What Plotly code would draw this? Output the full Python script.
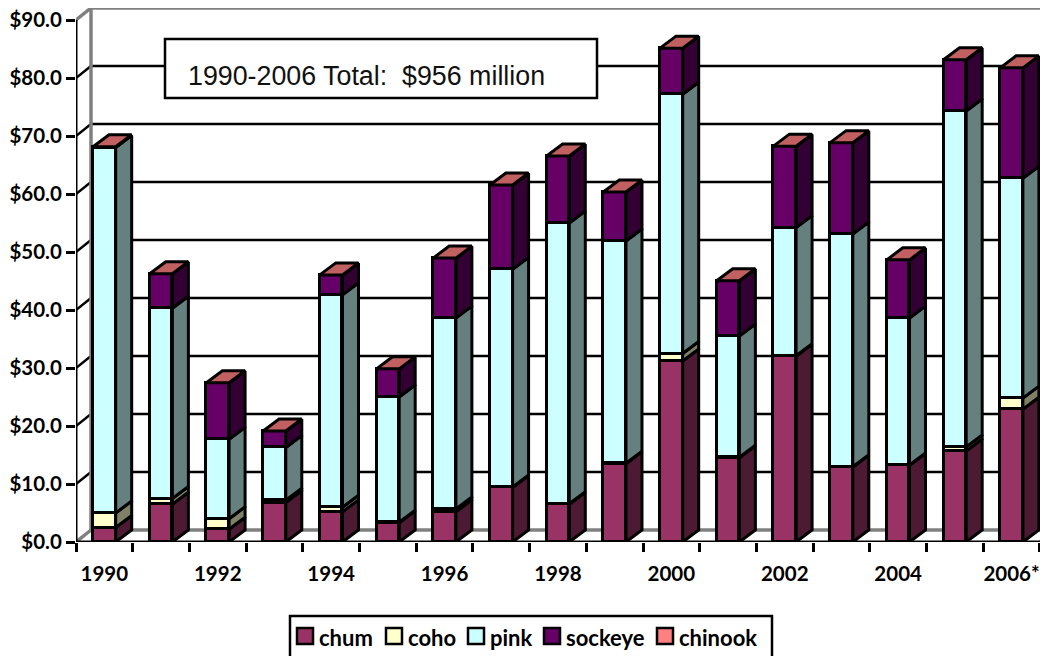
import plotly.graph_objects as go

years = ["1990","1991","1992","1993","1994","1995","1996","1997","1998","1999","2000","2001","2002","2003","2004","2005","2006*"]
chum = [2.5,6.5,2.2,6.8,5.2,3.3,5.2,9.4,6.5,13.5,31.2,14.5,32.0,12.9,13.2,15.7,22.9]
coho = [2.5,1.0,1.8,0.4,0.8,0.1,0.5,0.1,0.1,0.1,1.3,0.1,0.1,0.1,0.1,0.7,1.9]
pink = [63.0,32.8,13.7,9.1,36.6,21.6,32.9,37.5,48.4,38.3,44.7,20.9,22.1,40.1,25.3,57.9,37.9]
sockeye = [0.1,5.9,9.7,2.8,3.4,4.8,10.3,14.5,11.5,8.4,7.9,9.5,14.0,15.7,10.0,8.8,19.0]
chinook = [0.05]*17
series = [("chum",chum,"#993366","#4D1A33"),("coho",coho,"#FFFFCC","#808066"),
          ("pink",pink,"#CCFFFF","#668080"),("sockeye",sockeye,"#660066","#330033"),
          ("chinook",chinook,"#FF8080","#804040")]
TOP_FACE = "#C06060"
y_ticks = [0,10,20,30,40,50,60,70,80,90]
x_label_idx = [0,2,4,6,8,10,12,14,16]
legend_swatch_px = [297,386,468,544,657]
legend_text_px = [317,406,488,564,677]

# Geometry in page pixels; the page body has an 8px margin
OFF = 8
PAGE_W,PAGE_H = 1048,656
L,TOP,BOTTOM = 76,8,542
CAT_PX = 56.7
UNIT_PX = 5.8
DX = 16/CAT_PX
DY = 12/UNIT_PX
BAR = 0.4
XMIN,XMAX = -0.5,-0.5+(PAGE_W-L)/CAT_PX
YMAX = (BOTTOM-TOP)/UNIT_PX
XEND = len(years)-0.5
WALLX = XMIN+15/CAT_PX
DATAX = lambda p:XMIN+(p-L)/CAT_PX
DATAY = lambda p:(BOTTOM-p)/UNIT_PX
PX = lambda p:(p-L)/(PAGE_W-L)
PY = lambda p:(BOTTOM-p)/(BOTTOM-TOP)

fig = go.Figure()
n = len(years)
base = [0.0]*n
sides = []
LW = 3
for name,vals,col,dark in series:
    fig.add_bar(x=list(range(n)),y=vals,base=base,name=name,width=BAR,showlegend=False,
                marker=dict(color=col,line=dict(color="black",width=LW)),hoverinfo="skip")
    sx,sy = [],[]
    for i in range(n):
        r = i+BAR/2
        b0,b1 = base[i],base[i]+vals[i]
        sx += [r,r+DX,r+DX,r,r,None]
        sy += [b0,b0+DY,b1+DY,b1,b0,None]
    sides.append((sx,sy,dark))
    base = [a+b for a,b in zip(base,vals)]
for sx,sy,dark in sides:
    fig.add_scatter(x=sx,y=sy,mode="lines",fill="toself",fillcolor=dark,
                    line=dict(color="black",width=LW),showlegend=False,hoverinfo="skip",cliponaxis=False)
tx,ty = [],[]
for i in range(n):
    l,r = i-BAR/2,i+BAR/2
    t = base[i]
    tx += [l,l+DX,r+DX,r,l,None]
    ty += [t,t+DY,t+DY,t,t,None]
fig.add_scatter(x=tx,y=ty,mode="lines",fill="toself",fillcolor=TOP_FACE,
                line=dict(color="black",width=LW),showlegend=False,hoverinfo="skip",cliponaxis=False)
fig.add_scatter(x=[XMIN,XMIN],y=[0,90],mode="lines",line=dict(color="black",width=3),
                showlegend=False,hoverinfo="skip",cliponaxis=False)
fig.add_scatter(x=[XMIN,XEND],y=[0,0],mode="lines",line=dict(color="black",width=3),
                showlegend=False,hoverinfo="skip",cliponaxis=False)

shapes = []
GRAY = "#808080"
for g in y_ticks:
    edge = g in (0,90)
    c,w = (GRAY,3.5) if edge else ("black",2.5)
    shapes.append(dict(type="line",layer="below",xref="x",yref="y",x0=XMIN,y0=g,x1=WALLX,y1=g+DY,line=dict(color=c,width=w)))
    shapes.append(dict(type="line",layer="below",xref="x",yref="y",x0=WALLX,y0=g+DY,x1=XMAX,y1=g+DY,line=dict(color=c,width=w)))
shapes.append(dict(type="line",layer="below",xref="x",yref="y",x0=WALLX,y0=DY,x1=WALLX,y1=90+DY,line=dict(color=GRAY,width=3.5)))
shapes.append(dict(type="line",layer="below",xref="x",yref="y",x0=XEND,y0=0,x1=XEND+DX,y1=DY,line=dict(color="black",width=2.5)))
# total box, above the gridlines
shapes.append(dict(type="rect",layer="below",xref="x",yref="y",x0=DATAX(165),x1=DATAX(597),y0=DATAY(98),y1=DATAY(39),
                   fillcolor="white",line=dict(color="black",width=2.5)))
annotations = [dict(xref="paper",yref="paper",x=PX(186),y=PY(76),xanchor="left",yanchor="middle",
                    showarrow=False,text="1990-2006 Total:  $956 million",
                    font=dict(family="Liberation Sans",size=26.8,color="#111111"))]
# legend box
shapes.append(dict(type="rect",xref="paper",yref="paper",x0=PX(290),x1=PX(772),y0=PY(616),y1=PY(670),
                   fillcolor="white",line=dict(color="black",width=2.5)))
for (name,vals,col,dark),sxp,txp in zip(series,legend_swatch_px,legend_text_px):
    shapes.append(dict(type="rect",xref="paper",yref="paper",x0=PX(sxp),x1=PX(sxp+16),y0=PY(644),y1=PY(628),
                       fillcolor=col,line=dict(color="black",width=2.5)))
    annotations.append(dict(xref="paper",yref="paper",x=PX(txp),y=PY(637),xanchor="left",yanchor="middle",
                            showarrow=False,text=f"<b>{name}</b>",font=dict(family="Lato",size=22,color="black")))

fig.update_layout(
    width=PAGE_W-OFF,height=PAGE_H-OFF,autosize=False,
    margin=dict(l=L-OFF,r=0,t=TOP-OFF,b=PAGE_H-BOTTOM,pad=0),
    paper_bgcolor="white",plot_bgcolor="white",barmode="overlay",bargap=0,showlegend=False,
    font=dict(family="Lato",size=20,color="black"),
    shapes=shapes,annotations=annotations,
    xaxis=dict(range=[XMIN,XMAX],showgrid=False,zeroline=False,showline=False,
               tickmode="array",tickvals=x_label_idx,ticktext=[years[i] for i in x_label_idx],
               ticks="outside",ticklen=13,tickcolor="rgba(0,0,0,0)",ticklabeloverflow="allow",
               tickfont=dict(family="Lato",size=20.5,weight="bold"),
               minor=dict(tickmode="linear",tick0=-0.5,dtick=1,ticks="outside",ticklen=9,tickwidth=2.5,tickcolor="black")),
    yaxis=dict(range=[0,YMAX],showgrid=False,zeroline=False,showline=False,
               tickmode="array",tickvals=y_ticks,ticktext=[f"${v}.0" for v in y_ticks],
               ticks="outside",ticklen=9,tickwidth=2.5,tickcolor="black",ticklabeloverflow="allow",
               tickfont=dict(family="Lato",size=20.5,weight="bold")),
)
fig.write_html("out.html")
